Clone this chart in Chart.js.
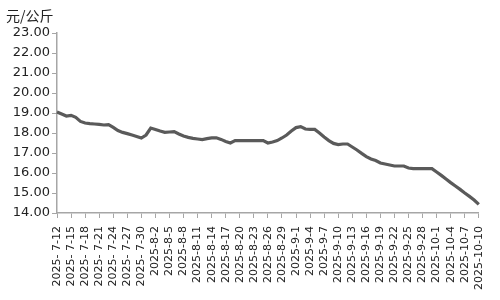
<!DOCTYPE html>
<html>
<head>
<meta charset="utf-8">
<script src="https://cdn.jsdelivr.net/npm/chart.js@4"></script>
<style>
  html, body { margin: 0; padding: 0; background: #fff; }
  #wrap { width: 500px; height: 300px; position: relative; }
</style>
</head>
<body>
<div id="wrap"><canvas id="chart"></canvas></div>
<script>
/* ── DATA ─────────────────────────────────────────────────── */
const unitLabel = '元/公斤';

const dates = [
  '2025- 7-12','2025- 7-13','2025- 7-14','2025- 7-15','2025- 7-16','2025- 7-17','2025- 7-18',
  '2025- 7-19','2025- 7-20','2025- 7-21','2025- 7-22','2025- 7-23','2025- 7-24','2025- 7-25',
  '2025- 7-26','2025- 7-27','2025- 7-28','2025- 7-29','2025- 7-30','2025- 7-31',
  '2025-8-1','2025-8-2','2025-8-3','2025-8-4','2025-8-5','2025-8-6','2025-8-7','2025-8-8',
  '2025-8-9','2025-8-10','2025-8-11','2025-8-12','2025-8-13','2025-8-14','2025-8-15','2025-8-16',
  '2025-8-17','2025-8-18','2025-8-19','2025-8-20','2025-8-21','2025-8-22','2025-8-23','2025-8-24',
  '2025-8-25','2025-8-26','2025-8-27','2025-8-28','2025-8-29','2025-8-30','2025-8-31',
  '2025-9-1','2025-9-2','2025-9-3','2025-9-4','2025-9-5','2025-9-6','2025-9-7','2025-9-8',
  '2025-9-9','2025-9-10','2025-9-11','2025-9-12','2025-9-13','2025-9-14','2025-9-15','2025-9-16',
  '2025-9-17','2025-9-18','2025-9-19','2025-9-20','2025-9-21','2025-9-22','2025-9-23','2025-9-24',
  '2025-9-25','2025-9-26','2025-9-27','2025-9-28','2025-9-29','2025-9-30',
  '2025-10-1','2025-10-2','2025-10-3','2025-10-4','2025-10-5','2025-10-6','2025-10-7','2025-10-8',
  '2025-10-9','2025-10-10'
];

const prices = [
  19.05, 18.95, 18.85, 18.88, 18.78, 18.58, 18.50, 18.47, 18.45, 18.43,
  18.40, 18.42, 18.28, 18.12, 18.03, 17.97, 17.90, 17.83, 17.75, 17.90,
  18.25, 18.18, 18.10, 18.03, 18.05, 18.07, 17.95, 17.85, 17.78, 17.73,
  17.70, 17.67, 17.72, 17.76, 17.76, 17.68, 17.58, 17.50, 17.62, 17.62,
  17.62, 17.62, 17.62, 17.62, 17.62, 17.50, 17.55, 17.62, 17.75, 17.90,
  18.10, 18.27, 18.32, 18.20, 18.18, 18.18, 18.00, 17.80, 17.62, 17.48,
  17.42, 17.45, 17.45, 17.30, 17.15, 16.98, 16.82, 16.70, 16.62, 16.50,
  16.45, 16.40, 16.35, 16.35, 16.35, 16.25, 16.22, 16.22, 16.22, 16.22,
  16.22, 16.05, 15.88, 15.70, 15.52, 15.35, 15.18, 15.00, 14.83, 14.65,
  14.43
];

const yTicks = [14, 15, 16, 17, 18, 19, 20, 21, 22, 23];
const labelEvery = 3;   // one date label every 3 days

/* ── TITLE (unit) ─────────────────────────────────────────── */
const unitPlugin = {
  id: 'unit',
  afterDraw(chart) {
    const ctx = chart.ctx;
    ctx.save();
    ctx.font = '14px "Noto Sans CJK SC", sans-serif';
    ctx.fillStyle = '#222';
    ctx.textBaseline = 'middle';
    ctx.fillText(unitLabel, 6, 16);
    ctx.restore();
  }
};

/* ── CHART ────────────────────────────────────────────────── */
const axisColor = '#a6a6a6';

new Chart(document.getElementById('chart'), {
  type: 'line',
  data: {
    labels: dates,
    datasets: [{
      data: prices,
      borderColor: '#5a5a5a',
      borderWidth: 3.2,
      pointRadius: 0,
      tension: 0,
      fill: false,
    }],
  },
  options: {
    responsive: true,
    maintainAspectRatio: false,
    animation: false,
    layout: { padding: { top: 33, right: 19, left: 0, bottom: 0 } },
    plugins: {
      legend: { display: false },
      tooltip: { enabled: false },
    },
    scales: {
      x: {
        offset: false,
        afterBuildTicks: axis => {
          axis.ticks = axis.ticks.filter((t, i) => i % labelEvery === 0);
        },
        afterFit: axis => { axis.height = 87; },
        grid: {
          drawOnChartArea: false,
          color: axisColor,
          tickLength: 5,
        },
        border: { color: axisColor, width: 1.5 },
        ticks: {
          autoSkip: false,
          maxRotation: 90,
          minRotation: 90,
          padding: 8,
          color: '#222',
          font: { family: 'DejaVu Sans', size: 11 },
        },
      },
      y: {
        min: 14,
        max: 23,
        afterBuildTicks: axis => {
          axis.ticks = yTicks.map(v => ({ value: v }));
        },
        afterFit: axis => { axis.width = 57; },
        grid: {
          drawOnChartArea: false,
          color: axisColor,
          tickLength: 5,
        },
        border: { color: axisColor, width: 1.5 },
        ticks: {
          padding: 2,
          color: '#222',
          font: { family: 'DejaVu Sans', size: 13 },
          callback: v => v.toFixed(2),
        },
      },
    },
  },
  plugins: [unitPlugin],
});
</script>
</body>
</html>
